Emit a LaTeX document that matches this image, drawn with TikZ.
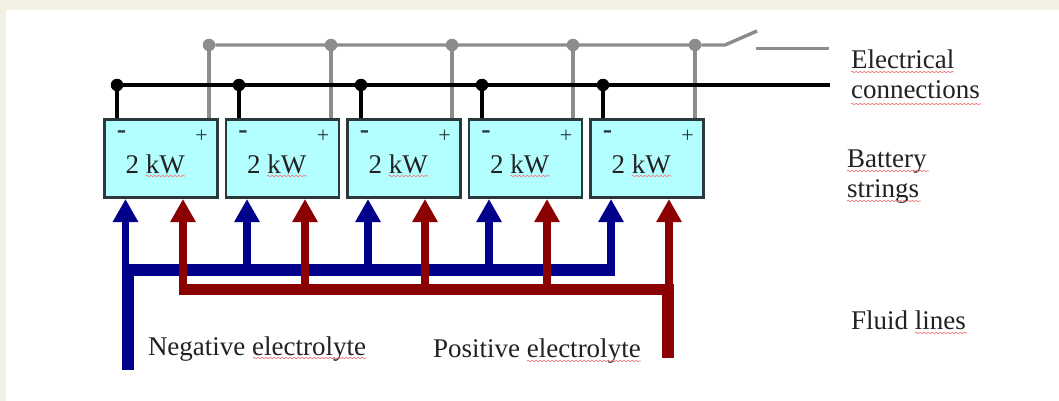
\documentclass[tikz,border=0pt]{standalone}
\usepackage{fontspec}
\setmainfont{Liberation Serif}
\usetikzlibrary{arrows.meta,calc,decorations.pathmorphing}
\definecolor{cream}{HTML}{F3F1E6}
\definecolor{cellfill}{HTML}{B3FFFF}
\definecolor{cellline}{HTML}{2A3A3C}
\definecolor{negblue}{HTML}{00008B}
\definecolor{posred}{HTML}{8B0000}
\definecolor{wiregray}{HTML}{8C8C8C}
\definecolor{inktext}{HTML}{222222}
\definecolor{squiggle}{HTML}{F08080}
\tikzset{
  x=1pt,y=-1pt,
  cell/.style={draw=cellline,line width=2.2pt,fill=cellfill,minimum width=113pt,minimum height=78pt,inner sep=0pt,outer sep=0pt},
  lbl/.style={anchor=base west,inner sep=0pt,outer sep=0pt,text=inktext,font=\fontsize{27}{27}\selectfont},
  sign/.style={inner sep=0pt,outer sep=0pt,text=cellline,font=\fontsize{22}{22}\selectfont},
  blackwire/.style={draw=black,line width=3.8pt},
  graywire/.style={draw=wiregray,line width=3.4pt},
  blackdot/.style={circle,fill=black,minimum size=12.5pt,inner sep=0pt,outer sep=0pt},
  graydot/.style={circle,fill=wiregray,minimum size=12.5pt,inner sep=0pt,outer sep=0pt},
  flowblue/.style={draw=negblue,line width=7.5pt,-{Triangle[width=24pt,length=23pt]}},
  flowred/.style={draw=posred,line width=7.5pt,-{Triangle[width=24pt,length=23pt]}},
  busblue/.style={draw=negblue,line width=12pt},
  busred/.style={draw=posred,line width=11pt},
  spell/.style={draw=squiggle,line width=0.7pt,decorate,decoration={snake,amplitude=0.7pt,segment length=4pt}}
}
\begin{document}
\begin{tikzpicture}
\useasboundingbox (0,0) rectangle (1059,401);
\fill[white] (0,0) rectangle (1059,401);
\fill[cream] (0,0) rectangle (1059,10);
\fill[cream] (0,0) rectangle (6,401);

% named points
\foreach \i/\cx/\nx/\px/\bx/\rx in {1/161/117/209/125.5/183,2/282.5/239/331/247/305,3/404/361/452/368/425,4/525.5/482/573/489/547,5/647/603/695/611/669}{
  \node[cell] (cell\i) at (\cx,158.5) {};
  \node[blackdot] (nd\i) at (\nx,85) {};
  \node[graydot] (pd\i) at (\px,45) {};
  \coordinate (nt\i) at (\nx,118);
  \coordinate (pt\i) at (\px,118);
  \coordinate (bt\i) at (\bx,199);
  \coordinate (rt\i) at (\rx,199);
  \coordinate (bb\i) at (\bx,270);
  \coordinate (rb\i) at (\rx,289);
  \node[sign,font=\fontsize{28}{28}\selectfont\bfseries] (minus\i) at ($(cell\i.north west)+(17,15.5)$) {-};
  \node[sign] (plus\i) at ($(cell\i.north east)+(-16,17)$) {+};
  \node[lbl] (kw\i) at ($(cell\i.west)+(21,14.5)$) {2 kW};
  \draw[spell] ($(kw\i.base west)+(20,3)$) -- +(40,0);
}
\coordinate (blackend) at (830,85);
\coordinate (swhinge) at (725,45);
\coordinate (swtip) at (757,31);
\coordinate (lineA) at (756,48.5);
\coordinate (lineB) at (829,48.5);
\coordinate (bluefeedtop) at (128,264);
\coordinate (bluefeedend) at (128,370);
\coordinate (blueleft) at (122,270);
\coordinate (blueright) at (615,270);
\coordinate (redleft) at (179,289);
\coordinate (redright) at (674,289);
\coordinate (redfeedtop) at (668,284);
\coordinate (redfeedend) at (668,358);

% electrical wiring
\foreach \i in {1,...,5}{\draw[graywire] (pd\i) -- (pt\i);}
\draw[graywire,line join=bevel] (pd1) -- (pd5) -- (swhinge) -- (swtip);
\draw[graywire] (lineA) -- (lineB);
\draw[blackwire] (nd1) -- (blackend);
\foreach \i in {1,...,5}{\draw[blackwire] (nd\i) -- (nt\i);}

% negative electrolyte lines
\draw[busblue] (bluefeedtop) -- (bluefeedend);
\draw[busblue] (blueleft) -- (blueright);
\foreach \i in {1,...,5}{\draw[flowblue] (bb\i) -- (bt\i);}

% positive electrolyte lines
\draw[busred] (redleft) -- (redright);
\draw[busred,line width=12pt] (redfeedtop) -- (redfeedend);
\foreach \i in {1,...,5}{\draw[flowred] (rb\i) -- (rt\i);}

% labels
\node[lbl] (elec) at (851,69) {Electrical};
\node[lbl] (conn) at (851,99) {connections};
\node[lbl] (batt) at (847,167) {Battery};
\node[lbl] (strg) at (847,197) {strings};
\node[lbl] (fluid) at (851,329) {Fluid lines};
\node[lbl] (neg) at (148,355) {Negative electrolyte};
\node[lbl] (pos) at (433,357) {Positive electrolyte};

% spell-check underlines
\draw[spell] (851,72) -- (954,72);
\draw[spell] (851,104) -- (981,104);
\draw[spell] (847,171) -- (929,171);
\draw[spell] (847,201) -- (921,201);
\draw[spell] (915,333) -- (967,333);
\draw[spell] (253,358) -- (366,358);
\draw[spell] (527,361) -- (641,361);
\end{tikzpicture}
\end{document}
